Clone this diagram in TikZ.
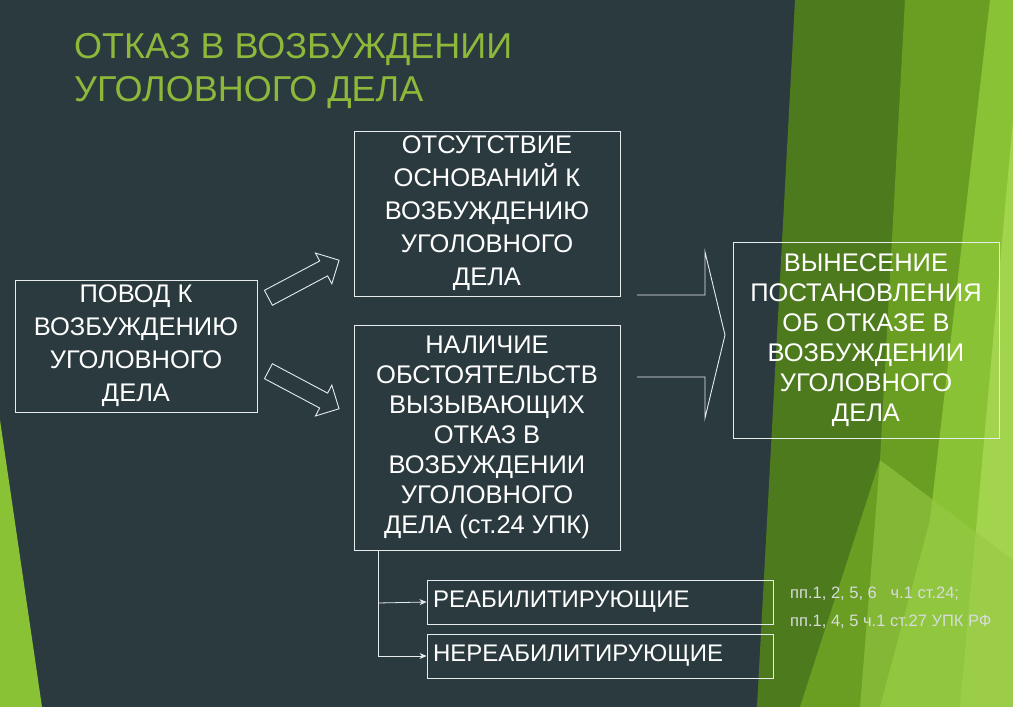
\documentclass[tikz,border=0pt]{standalone}
\usepackage{fontspec}
\setmainfont{Liberation Sans}
\usetikzlibrary{shapes.arrows,arrows.meta}
\definecolor{bg}{HTML}{2B3A3F}
\definecolor{ttl}{HTML}{8DB83A}
\definecolor{gA}{HTML}{4E7A1E}
\definecolor{gB}{HTML}{6A9E22}
\definecolor{gC}{HTML}{8AC236}
\definecolor{gD}{HTML}{A2D44E}
\definecolor{ln}{HTML}{E6ECEC}
\begin{document}
\begin{tikzpicture}[x=1pt,y=-1pt,
  box/.style={draw=ln,line width=0.9pt,text=white,align=center,inner sep=0pt,font=\fontsize{25.5}{33}\selectfont},
  harrow/.style={single arrow,draw=ln,line width=0.9pt,minimum height=80pt,minimum width=34pt,single arrow head extend=9pt,inner xsep=0pt,inner ysep=8pt},
  con/.style={draw=ln,line width=0.8pt},
  tip/.style={-{Stealth[length=7pt,width=6pt]}}]
\useasboundingbox (0,0) rectangle (1013,707);
\fill[bg] (0,0) rectangle (1013,707);
% green background shapes
\fill[gC] (0,420) -- (42,707) -- (0,707) -- cycle;
\fill[gA] (795,0) -- (1013,0) -- (1013,707) -- (757,707) -- cycle;
\fill[gB] (905,0) -- (1013,0) -- (1013,707) -- (800,707) -- (880,460) -- cycle;
\fill[gC] (990,0) -- (1013,0) -- (1013,707) -- (880,707) -- (930,520) -- cycle;
\fill[gD] (1013,120) -- (1013,707) -- (960,707) -- cycle;
\fill[gD!80!gB, opacity=0.6] (880,460) -- (1013,560) -- (1013,707) -- (860,707) -- cycle;
% title
\node[anchor=north west,text=ttl,align=left,inner sep=0pt,font=\fontsize{36}{43}\selectfont] (title) at (74,33) {ОТКАЗ В ВОЗБУЖДЕНИИ\\УГОЛОВНОГО ДЕЛА};
% boxes
\node[box,minimum width=242pt,minimum height=132pt] (povod) at (136,346) {ПОВОД К\\ВОЗБУЖДЕНИЮ\\УГОЛОВНОГО\\ДЕЛА};
\node[box,minimum width=266pt,minimum height=165pt] (ots) at (487,213.5) {ОТСУТСТВИЕ\\ОСНОВАНИЙ К\\ВОЗБУЖДЕНИЮ\\УГОЛОВНОГО\\ДЕЛА};
\node[box,minimum width=266pt,minimum height=225pt,font=\fontsize{25.5}{30}\selectfont] (nal) at (487,437.5) {НАЛИЧИЕ\\ОБСТОЯТЕЛЬСТВ\\ВЫЗЫВАЮЩИХ\\ОТКАЗ В\\ВОЗБУЖДЕНИИ\\УГОЛОВНОГО\\ДЕЛА (ст.24 УПК)};
\node[box,minimum width=266pt,minimum height=196pt,font=\fontsize{25.5}{30}\selectfont] (vyn) at (866,340) {ВЫНЕСЕНИЕ\\ПОСТАНОВЛЕНИЯ\\ОБ ОТКАЗЕ В\\ВОЗБУЖДЕНИИ\\УГОЛОВНОГО\\ДЕЛА};
\node[box,minimum width=346pt,minimum height=44pt,text width=334pt,align=left,font=\fontsize{24}{28}\selectfont] (reab) at (600,602) {РЕАБИЛИТИРУЮЩИЕ};
\node[box,minimum width=346pt,minimum height=44pt,text width=334pt,align=left,font=\fontsize{24}{28}\selectfont] (nereab) at (600,656) {НЕРЕАБИЛИТИРУЮЩИЕ};
% hollow arrows
\node[harrow,rotate=28] (a1) at (300,281) {};
\node[harrow,rotate=-28] (a2) at (300,388) {};
% big arrow
\draw[ln,line width=0.9pt] (637,295) -- (705,295) -- (705,252) -- (725,335) -- (705,418) -- (705,377) -- (637,377);
% connectors
\coordinate (j0) at (378,550);
\coordinate (j1) at (378,603);
\coordinate (j2) at (378,656);
\draw[con] (j0) -- (j2);
\draw[con,tip] (j1) -- (reab.west);
\draw[con,tip] (j2) -- (nereab.west);
% small text
\node[anchor=west,text=ln!85!gray,inner sep=0pt,font=\fontsize{16.5}{18}\selectfont] (n1) at (790,594) {пп.1, 2, 5, 6 \ \ ч.1 ст.24;};
\node[anchor=west,text=ln!85!gray,inner sep=0pt,font=\fontsize{16.5}{18}\selectfont] (n2) at (790,622) {пп.1, 4, 5 ч.1 ст.27 УПК РФ};
\end{tikzpicture}
\end{document}
